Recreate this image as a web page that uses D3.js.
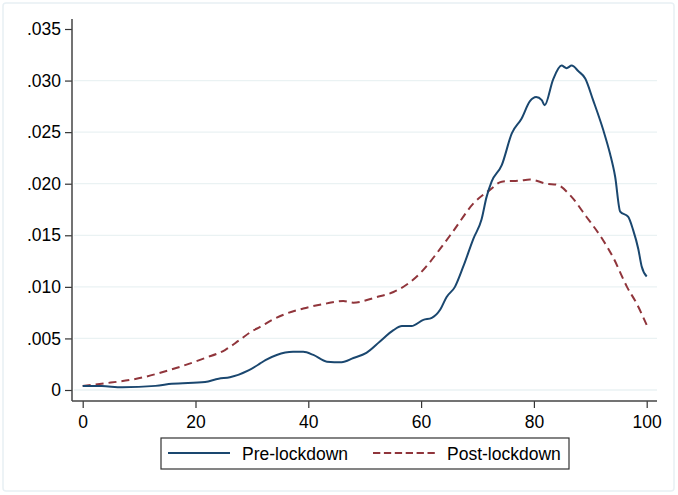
<!DOCTYPE html>
<html>
<head>
<meta charset="utf-8">
<script src="https://cdn.jsdelivr.net/npm/d3@7"></script>
<style>
  html, body { margin: 0; padding: 0; background: #fff; }
  svg { display: block; font-family: "Liberation Sans", Arial, sans-serif; }
</style>
</head>
<body>
<svg id="chart" width="678" height="495"></svg>
<script>
// ---- Data ----
const seriesNames = ["Pre-lockdown", "Post-lockdown"];

const preX = [0, 3.4, 7, 12.9, 15.8, 21.7, 24.1, 26.1, 29.4, 31.4, 32.4, 34.4, 37.3, 39.1, 40.9, 43.3, 45.9, 48, 50.3, 52.7, 55.1, 56.6, 58.3, 60.4, 61.9, 63.4, 64.5, 66, 67.5, 69.3, 70.7, 71.6, 72.5, 74.3, 76.1, 77.8, 79.3, 80.4, 81.4, 81.9, 83.4, 84.9, 85.8, 86.7, 87.9, 89.1, 90.5, 92.3, 93.5, 94.4, 95.3, 96.7, 97.6, 98.5, 99.1, 100];
const preY = [0.0004, 0.00038, 0.00026, 0.0004, 0.0006, 0.00078, 0.0011, 0.00123, 0.0019, 0.00255, 0.0029, 0.0034, 0.0037, 0.0037, 0.0034, 0.00275, 0.0027, 0.0031, 0.0036, 0.0047, 0.0058, 0.0062, 0.0062, 0.0068, 0.0070, 0.0078, 0.0090, 0.0100, 0.0120, 0.0147, 0.0165, 0.0187, 0.0202, 0.0218, 0.0249, 0.0263, 0.0280, 0.0284, 0.0281, 0.0276, 0.0301, 0.03145, 0.0312, 0.03145, 0.0309, 0.0302, 0.0281, 0.0252, 0.0229, 0.0207, 0.0173, 0.0168, 0.0155, 0.0137, 0.0120, 0.0110];

const postX = [0, 4, 9.9, 15.8, 21.7, 25.3, 27.7, 30, 31.4, 33.6, 35.6, 39.1, 43.3, 46.2, 48, 52.1, 55.1, 57.4, 59.8, 63.4, 65.7, 69.3, 72.2, 74.3, 77.5, 79.3, 82.3, 84.1, 86.4, 89.3, 92.3, 94.1, 96.5, 98.2, 100];
const postY = [0.0004, 0.00065, 0.00113, 0.0020, 0.0031, 0.0039, 0.0048, 0.0057, 0.0061, 0.0068, 0.0073, 0.0079, 0.0084, 0.00863, 0.00847, 0.0090, 0.0095, 0.0102, 0.0113, 0.0137, 0.0154, 0.0181, 0.0194, 0.0202, 0.0203, 0.0204, 0.0200, 0.0199, 0.0189, 0.0168, 0.0145, 0.0128, 0.0100, 0.0084, 0.0063];

const xTicks = [0, 20, 40, 60, 80, 100];
const yTicks = [0, 0.005, 0.010, 0.015, 0.020, 0.025, 0.030, 0.035];
const yTickLabels = ["0", ".005", ".010", ".015", ".020", ".025", ".030", ".035"];

// ---- Drawing ----
const svg = d3.select("#chart");
const colors = ["#1a476f", "#90353b"];
const fontSize = 17.5;

svg.append("rect").attr("x", 0).attr("y", 0).attr("width", 678).attr("height", 495).attr("fill", "#fff");
svg.append("rect").attr("x", 3).attr("y", 3).attr("width", 671).attr("height", 488)
  .attr("rx", 3).attr("fill", "#fff").attr("stroke", "#e8f0f4").attr("stroke-width", 1.5);

const x = d3.scaleLinear().domain([0, 100]).range([82.7, 646.7]);
const y = d3.scaleLinear().domain([0, 0.035]).range([390, 29]);

// gridlines
svg.append("g").selectAll("line")
  .data(yTicks.filter(t => t < 0.034))
  .join("line")
  .attr("x1", 74).attr("x2", 657)
  .attr("y1", d => y(d)).attr("y2", d => y(d))
  .attr("stroke", "#eaf2f3").attr("stroke-width", 1.3);

// y axis
const yAxis = d3.axisLeft(y).tickValues(yTicks)
  .tickFormat((d, i) => yTickLabels[i]).tickSize(7).tickPadding(4);
const gy = svg.append("g").attr("transform", "translate(72,0)").call(yAxis);
gy.select(".domain").remove();
gy.append("line").attr("x1", 0).attr("x2", 0).attr("y1", 19).attr("y2", 401)
  .attr("stroke", "#444").attr("stroke-width", 1.5);
gy.selectAll(".tick line").attr("stroke", "#333").attr("stroke-width", 1.2);
gy.selectAll(".tick text").attr("font-size", fontSize).attr("fill", "#000")
  .attr("font-family", "Liberation Sans, Arial, sans-serif");

// x axis
const xAxis = d3.axisBottom(x).tickValues(xTicks).tickFormat(d3.format("d")).tickSize(7).tickPadding(8);
const gx = svg.append("g").attr("transform", "translate(0,401)").call(xAxis);
gx.select(".domain").remove();
gx.append("line").attr("x1", 72).attr("x2", 657).attr("y1", 0).attr("y2", 0)
  .attr("stroke", "#444").attr("stroke-width", 1.5);
gx.selectAll(".tick line").attr("stroke", "#333").attr("stroke-width", 1.2);
gx.selectAll(".tick text").attr("font-size", fontSize).attr("fill", "#000")
  .attr("font-family", "Liberation Sans, Arial, sans-serif");

// lines
const line = d3.line().x(d => x(d[0])).y(d => y(d[1])).curve(d3.curveMonotoneX);
const preData = preX.map((v, i) => [v, preY[i]]);
const postData = postX.map((v, i) => [v, postY[i]]);

svg.append("path").datum(postData).attr("d", line)
  .attr("fill", "none").attr("stroke", colors[1]).attr("stroke-width", 2)
  .attr("stroke-dasharray", "8,5");
svg.append("path").datum(preData).attr("d", line)
  .attr("fill", "none").attr("stroke", colors[0]).attr("stroke-width", 2);

// legend
const lg = svg.append("g");
lg.append("rect").attr("x", 161).attr("y", 438).attr("width", 408).attr("height", 31)
  .attr("fill", "#fff").attr("stroke", "#333").attr("stroke-width", 1.2);
const items = [
  { name: seriesNames[0], lx: 168, tx: 242, dash: null, color: colors[0] },
  { name: seriesNames[1], lx: 373, tx: 447, dash: "7.3,3.6", color: colors[1] }
];
items.forEach(it => {
  lg.append("line").attr("x1", it.lx).attr("x2", it.lx + 62).attr("y1", 453).attr("y2", 453)
    .attr("stroke", it.color).attr("stroke-width", 2)
    .attr("stroke-dasharray", it.dash);
  lg.append("text").attr("x", it.tx).attr("y", 459.5).attr("font-size", fontSize)
    .attr("fill", "#000").text(it.name);
});
</script>
</body>
</html>
